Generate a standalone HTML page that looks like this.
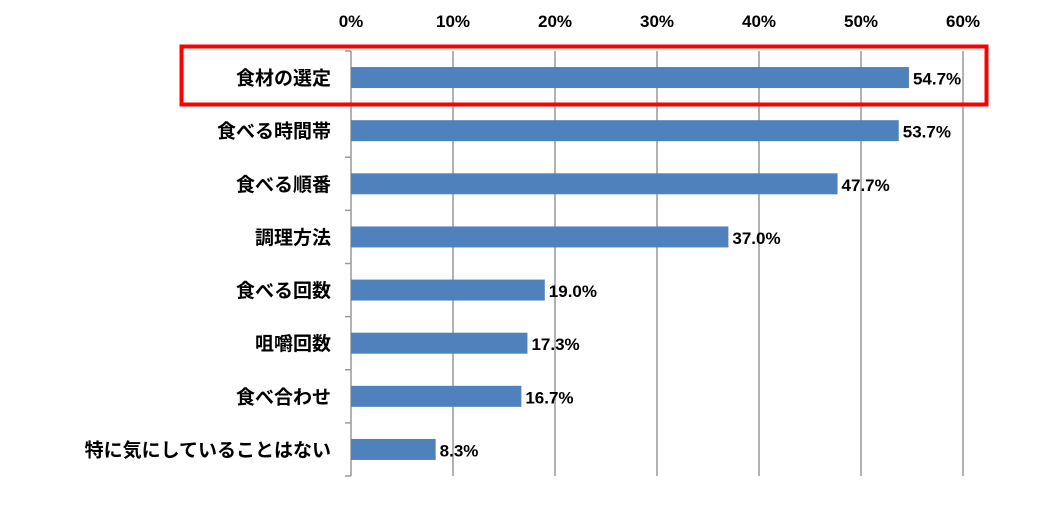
<!DOCTYPE html>
<html><head><meta charset="utf-8"><style>
body{margin:0;background:#fff;}
svg text{font-family:"Liberation Sans","Noto Sans CJK JP",sans-serif;font-weight:bold;fill:#000;}
</style></head><body>
<svg id="chart" width="1040" height="510" xmlns="http://www.w3.org/2000/svg"></svg>
<script>
const categories=["食材の選定","食べる時間帯","食べる順番","調理方法","食べる回数","咀嚼回数","食べ合わせ","特に気にしていることはない"];
const values=[54.7,53.7,47.7,37.0,19.0,17.3,16.7,8.3];
const ticks=[0,10,20,30,40,50,60];
(function(){
const svg=document.getElementById('chart');
const NS='http://www.w3.org/2000/svg';
const x0=351,x1=963,plotTop=51,plotBottom=476;
const xs=v=>x0+(v/60)*(x1-x0);
const band=(plotBottom-plotTop)/categories.length;
function mk(t,a){const e=document.createElementNS(NS,t);for(const k in a)e.setAttribute(k,a[k]);svg.appendChild(e);return e;}
ticks.forEach((t,i)=>{
  if(i>0){const g=mk('line',{x1:xs(t),x2:xs(t),y1:plotTop,y2:plotBottom,stroke:'#999','stroke-width':1.5});
  
  }
  const l=mk('text',{x:xs(t),y:27,'text-anchor':'middle','font-size':17});
  l.textContent=t+'%';
  
  
});
const ax=mk('line',{x1:x0,x2:x0,y1:plotTop,y2:plotBottom,stroke:'#999','stroke-width':1.5});


for(let i=0;i<=categories.length;i++){
  const y=plotTop+i*band;
  const tk=mk('line',{x1:x0-6,x2:x0,y1:y,y2:y,stroke:'#999','stroke-width':1.5});
  
  
}
categories.forEach((c,i)=>{
  const cy=plotTop+band*(i+0.5);
  const b=mk('rect',{x:x0,y:cy-10.5,width:xs(values[i])-x0,height:21,fill:'#4f81bd'});
  
  
  const v=mk('text',{x:xs(values[i])+4,y:cy+7,'font-size':17});
  v.textContent=values[i].toFixed(1)+'%';
  
  
  const l=mk('text',{x:331,y:cy+7,'text-anchor':'end','font-size':19});
  l.textContent=c;
  
  
});
const hl=mk('rect',{x:181.5,y:46.5,width:805,height:58,fill:'none',stroke:'#ff0000','stroke-width':4});


})();
</script>
</body></html>
